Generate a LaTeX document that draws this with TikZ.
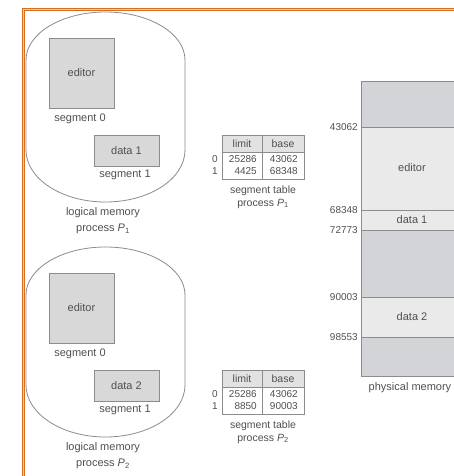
\documentclass[tikz,border=0pt]{standalone}
\usepackage{fontspec}
\setmainfont{Liberation Sans}
\usetikzlibrary{positioning}
\definecolor{cFrame}{RGB}{214,112,32}
\definecolor{cFrameL}{RGB}{246,204,160}
\definecolor{cLine}{RGB}{140,140,140}
\definecolor{cText}{RGB}{80,80,80}
\definecolor{cSeg}{RGB}{216,216,216}
\definecolor{cHead}{RGB}{226,226,226}
\definecolor{cFree}{RGB}{210,212,216}
\definecolor{cUsed}{RGB}{234,234,234}

\begin{document}
\begin{tikzpicture}[x=1pt,y=-1pt,
   font=\fontsize{11}{16}\selectfont, text=cText,
   seg/.style={draw=cLine,fill=cSeg,line width=0.8pt,inner sep=0pt},
   lbl/.style={inner sep=0pt,align=center},
   num/.style={font=\fontsize{10}{12}\selectfont,inner sep=0pt}]
 \clip (0,0) rectangle (454,476);
 \fill[white] (0,0) rectangle (454,476);
 % two processes: logical memory + segment table
 \foreach \p/\dy/\lim/\bas in {1/0/4425/68348,2/235/8850/90003} {
  \begin{scope}[shift={(0,\dy)}]
   \draw[cLine,line width=0.8pt] (26,60) .. controls (26,33.5) and (61.6,12) .. (105.5,12)
     .. controls (149.4,12) and (185,33.5) .. (185,60) -- (185,150)
     .. controls (185,178.7) and (149.4,202) .. (105.5,202)
     .. controls (61.6,202) and (26,178.7) .. (26,150) -- cycle;
   \node[seg,minimum width=65pt,minimum height=70pt] (ed\p) at (81.5,73) {editor};
   \node[lbl] (s0\p) at (80,119) {segment 0};
   \node[seg,minimum width=65pt,minimum height=31pt] (dat\p) at (126.5,150.5) {data \p};
   \node[lbl] (s1\p) at (125,175) {segment 1};
   \node[lbl] (lm\p) at (103,221) {logical memory\\process \textit{P}\textsubscript{\p}};
   % segment table
   \draw[cLine,line width=0.8pt,fill=white] (222,135) rectangle (304,179);
   \draw[cLine,line width=0.8pt,fill=cHead] (222,135) rectangle (304,152);
   \draw[cLine,line width=0.8pt] (262,135) -- (262,179);
   \node[num,font=\fontsize{10.5}{12}\selectfont] (hl\p) at (242,143.5) {limit};
   \node[num,font=\fontsize{10.5}{12}\selectfont] (hb\p) at (283,143.5) {base};
   \node[num] (r0\p) at (215,159) {0};
   \node[num] (r1\p) at (215,171) {1};
   \node[num,anchor=east] (l0\p) at (257,159) {25286};
   \node[num,anchor=east] (l1\p) at (257,171) {\lim};
   \node[num,anchor=east] (b0\p) at (298,159) {43062};
   \node[num,anchor=east] (b1\p) at (298,171) {\bas};
   \node[lbl,font=\fontsize{10.5}{13}\selectfont] (st\p) at (263,197) {segment table\\process \textit{P}\textsubscript{\p}};
  \end{scope}
 }
 % physical memory
 \foreach \ya/\yb/\fc in {81/127/cFree,127/210/cUsed,210/230/cUsed,230/297/cFree,297/337/cUsed,337/376/cFree}
   \draw[cLine,line width=0.8pt,fill=\fc] (361,\ya) rectangle (459,\yb);
 \foreach \y/\adr in {127/43062,210/68348,230/72773,297/90003,337/98553}
   \node[num,anchor=east] (a\adr) at (358,\y) {\adr};
 \node (medit) at (412,168) {editor};
 \node (mdat1) at (412,220) {data 1};
 \node (mdat2) at (412,317) {data 2};
 \node (phys) at (410,388) {physical memory};
 % frame
 \draw[cFrame,line width=1pt,double=cFrameL,double distance=1.5pt] (23.5,480) -- (23.5,9.5) -- (460,9.5);
\end{tikzpicture}
\end{document}
